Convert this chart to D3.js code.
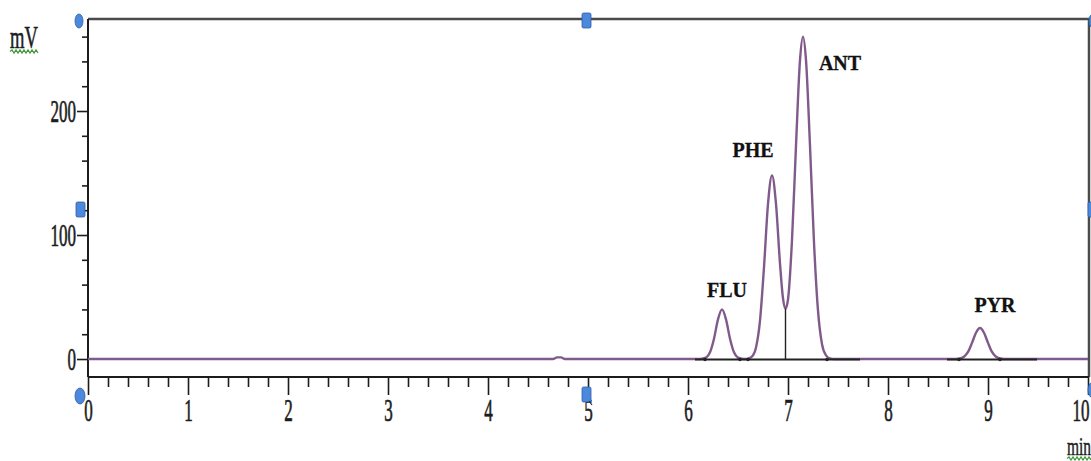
<!DOCTYPE html>
<html>
<head>
<meta charset="utf-8">
<script src="https://cdn.jsdelivr.net/npm/d3@7"></script>
<style>
  html, body { margin: 0; padding: 0; background: #fff; overflow: hidden; }
  svg { display: block; }
</style>
</head>
<body>
<svg id="chart" width="1091" height="461"></svg>
<script>
// Detector trace: retention time (min) and signal (mV)
const traceTime = [
  0, 4.65, 4.69, 4.73, 4.77, 6.10,
  6.14, 6.18, 6.22, 6.26, 6.30, 6.34, 6.38, 6.42, 6.46, 6.50, 6.54, 6.57,
  6.60, 6.64, 6.68, 6.72, 6.76, 6.80, 6.84, 6.88, 6.92, 6.95, 6.975, 7.00,
  7.04, 7.08, 7.12, 7.15, 7.18, 7.22, 7.26, 7.30, 7.34, 7.38, 7.42, 7.46,
  8.68, 8.72, 8.76, 8.80, 8.84, 8.88, 8.92, 8.96, 9.00, 9.04, 9.08, 9.12, 9.16,
  10
];
const traceMV = [
  0, 0, 1.3, 1.3, 0, 0,
  0.2, 1.1, 5.4, 16.4, 32, 40, 32, 16.4, 5.4, 1.1, 0.2, 0,
  0.3, 2, 9.3, 31, 74, 125, 148, 125, 77, 49, 40.6, 48,
  96, 172, 241, 260, 241, 172, 94, 39, 12, 3, 0.5, 0,
  0, 0.4, 1.8, 5.7, 13, 21.2, 25, 21.2, 13, 5.7, 1.8, 0.4, 0,
  0
];

// Identified peaks
const peakNames   = ["FLU", "PHE", "ANT", "PYR"];
const peakTimes   = [6.34, 6.84, 7.15, 8.92];
const peakHeights = [40, 148, 260, 25];

// Integration: baselines, peak start/stop marks, perpendicular drop
const baseStart  = [6.07, 8.59];
const baseEnd    = [7.72, 9.49];
const peakBounds = [6.17, 6.52, 6.60, 7.39, 8.71, 9.12];
const dropTimes   = [6.975];
const dropHeights = [40.6];

// Axis ticks
const xTicks = [0, 1, 2, 3, 4, 5, 6, 7, 8, 9, 10];
const xMinorStep = 0.2;
const yTicks = [0, 100, 200];
const yMinorStep = 20;

const svg = d3.select("#chart");
const plotLeft = 88, plotRight = 1088, plotTop = 19, plotBottom = 377;

const x = d3.scaleLinear().domain([0, 10]).range([plotLeft, plotRight]);
const y = d3.scaleLinear().domain([-14.5, 274.2]).range([plotBottom, plotTop]);

const serif = "'Liberation Serif', 'Times New Roman', serif";
const ink = "#1c1c1c";

// Plot frame (top and right)
svg.append("path")
  .attr("d", `M${plotLeft},${plotTop}H${plotRight + 1}V${plotBottom}`)
  .attr("fill", "none").attr("stroke", "#4a4a4a").attr("stroke-width", 2.5);

// X axis
const xMinor = d3.range(0, 10 + 1e-9, xMinorStep).filter(v => Math.abs(v - Math.round(v)) > 1e-6);
const gxMinor = svg.append("g").attr("transform", `translate(0,${plotBottom})`)
  .call(d3.axisBottom(x).tickValues(xMinor).tickSize(10).tickFormat(""));
const gx = svg.append("g").attr("transform", `translate(0,${plotBottom})`)
  .call(d3.axisBottom(x).tickValues(xTicks).tickSize(18).tickPadding(7).tickFormat(d3.format("d")));
[gxMinor, gx].forEach(g => {
  g.select(".domain").remove();
  g.selectAll("line").attr("stroke", ink).attr("stroke-width", 1.6);
});
gx.selectAll("text")
  .attr("font-family", serif).attr("font-size", 31).attr("fill", ink)
  .attr("stroke", ink).attr("stroke-width", 0.7)
  .attr("dy", "0.62em")
  .attr("transform", "scale(0.55,1)");
gx.selectAll(".tick").filter(d => d === 10).select("text")
  .attr("text-anchor", "end").attr("x", 1 / 0.55);

// Y axis
const yMinor = d3.range(0, 274, yMinorStep).filter(v => v % 100 !== 0);
const gyMinor = svg.append("g").attr("transform", `translate(${plotLeft},0)`)
  .call(d3.axisLeft(y).tickValues(yMinor).tickSize(6).tickFormat(""));
const gy = svg.append("g").attr("transform", `translate(${plotLeft},0)`)
  .call(d3.axisLeft(y).tickValues(yTicks).tickSize(11).tickPadding(1).tickFormat(d3.format("d")));
[gyMinor, gy].forEach(g => {
  g.select(".domain").remove();
  g.selectAll("line").attr("stroke", ink).attr("stroke-width", 1.6);
});
gy.selectAll("text")
  .attr("font-family", serif).attr("font-size", 31).attr("fill", ink)
  .attr("stroke", ink).attr("stroke-width", 0.7)
  .attr("dy", "0.34em")
  .attr("transform", "scale(0.55,1)")
  .attr("x", -12 / 0.55);

// Axis lines
svg.append("line").attr("x1", plotLeft).attr("x2", plotRight + 1).attr("y1", plotBottom).attr("y2", plotBottom)
  .attr("stroke", ink).attr("stroke-width", 2);
svg.append("line").attr("x1", plotLeft).attr("x2", plotLeft).attr("y1", plotTop).attr("y2", plotBottom)
  .attr("stroke", ink).attr("stroke-width", 2);

// Units
function squiggle(x0, x1, yy) {
  let d = `M${x0},${yy}`;
  let up = true;
  for (let xx = x0 + 2; xx <= x1; xx += 2) { d += `L${xx},${yy + (up ? -1.5 : 1.5)}`; up = !up; }
  return d;
}
svg.append("text").attr("transform", "translate(10,48) scale(0.6,1)")
  .attr("font-family", serif).attr("font-size", 31).attr("fill", ink)
  .attr("stroke", ink).attr("stroke-width", 0.6).text("mV");
svg.append("path").attr("d", squiggle(10, 38, 51.5)).attr("fill", "none")
  .attr("stroke", "#3f9a3a").attr("stroke-width", 1.3);
svg.append("text").attr("transform", "translate(1067,455) scale(0.62,1)")
  .attr("font-family", serif).attr("font-size", 25).attr("fill", ink)
  .attr("stroke", ink).attr("stroke-width", 0.5).text("min");
svg.append("path").attr("d", squiggle(1067, 1091, 458.5)).attr("fill", "none")
  .attr("stroke", "#3f9a3a").attr("stroke-width", 1.3);

// Chromatogram trace
const trace = traceTime.map((t, i) => [t, traceMV[i]]);
svg.append("path")
  .datum(trace)
  .attr("d", d3.line().x(d => x(d[0])).y(d => y(d[1])).curve(d3.curveMonotoneX))
  .attr("fill", "none")
  .attr("stroke", "#805a8a")
  .attr("stroke-width", 2.4)
  .attr("stroke-linejoin", "round");

// Integration baselines and drop line
baseStart.forEach((s, i) => {
  svg.append("line")
    .attr("x1", x(s)).attr("x2", x(baseEnd[i]))
    .attr("y1", y(0) + 0.5).attr("y2", y(0) + 0.5)
    .attr("stroke", "#222").attr("stroke-width", 1.8);
});
dropTimes.forEach((t, i) => {
  svg.append("line")
    .attr("x1", x(t)).attr("x2", x(t))
    .attr("y1", y(0)).attr("y2", y(dropHeights[i]))
    .attr("stroke", "#222").attr("stroke-width", 1.4);
});
svg.selectAll("circle.bound").data(peakBounds).join("circle")
  .attr("class", "bound")
  .attr("cx", d => x(d)).attr("cy", y(0) + 0.5).attr("r", 1.8)
  .attr("fill", "#222");

// Peak labels, placed beside each apex
const labelOffsets = [[5, -12], [-19, -18], [37, 33], [15, -16]];
svg.selectAll("text.peak").data(peakNames).join("text")
  .attr("class", "peak")
  .attr("x", (d, i) => x(peakTimes[i]) + labelOffsets[i][0])
  .attr("y", (d, i) => y(peakHeights[i]) + labelOffsets[i][1])
  .attr("text-anchor", "middle")
  .attr("font-family", serif).attr("font-weight", "bold").attr("font-size", 20)
  .attr("fill", "#111").attr("stroke", "#111").attr("stroke-width", 0.3)
  .text(d => d);

// Cursor handles of the viewer
const handleFill = "#4c88dc", handleStroke = "#2d5fa8";
const ovals = [[79, 21, 4, 7], [80, 396, 5, 8], [1093, 21, 4, 7], [1093, 390, 5, 8]];
ovals.forEach(o => svg.append("ellipse")
  .attr("cx", o[0]).attr("cy", o[1]).attr("rx", o[2]).attr("ry", o[3])
  .attr("fill", handleFill).attr("stroke", handleStroke).attr("stroke-width", 0.8));
const squares = [[582, 13], [582, 387], [76, 202], [1088, 202]];
squares.forEach(s => svg.append("rect")
  .attr("x", s[0]).attr("y", s[1]).attr("width", 9).attr("height", 15).attr("rx", 1.5)
  .attr("fill", handleFill).attr("stroke", handleStroke).attr("stroke-width", 0.8));
svg.append("line").attr("x1", 589).attr("y1", 401).attr("x2", 592).attr("y2", 405)
  .attr("stroke", "#333").attr("stroke-width", 1.2);
</script>
</body>
</html>
